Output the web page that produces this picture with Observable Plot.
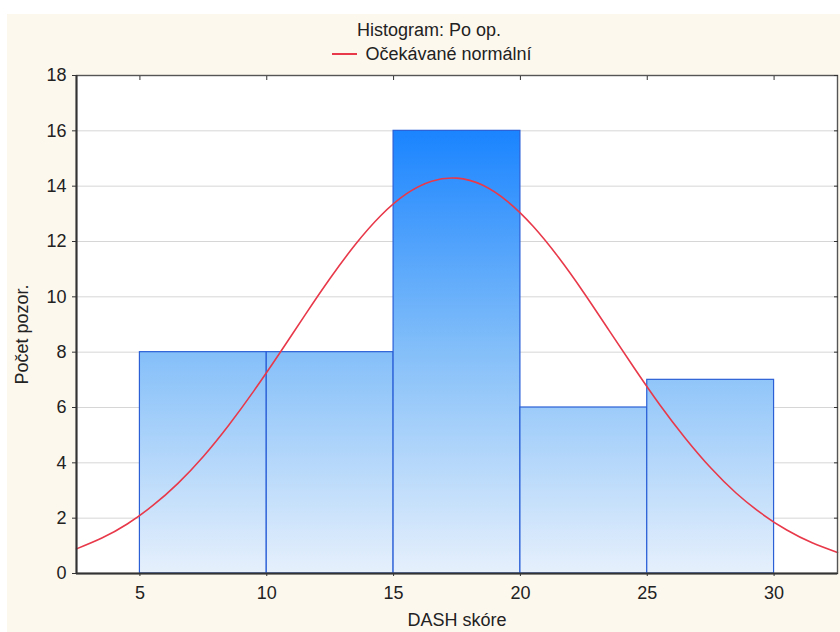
<!DOCTYPE html>
<html>
<head>
<meta charset="utf-8">
<script src="https://cdn.jsdelivr.net/npm/d3@7"></script>
<script src="https://cdn.jsdelivr.net/npm/@observablehq/plot@0.6"></script>
<style>
  body { margin: 0; background: #ffffff; font-family: "Liberation Sans", Arial, sans-serif; }
  #page { position: absolute; left: 0; top: 0; width: 840px; height: 632px; overflow: hidden; }
  #panel { position: absolute; left: 7px; top: 14px; right: 0; bottom: 0; background: #fdf8ee; }
  #title { position: absolute; left: 0; top: 20px; width: 858px; text-align: center; font-size: 18px; line-height: 20px; color: #222; white-space: nowrap; }
  #legend { position: absolute; left: 0; top: 44px; width: 864px; text-align: center; font-size: 18px; line-height: 20px; color: #222; white-space: nowrap; }
  #legend .sw { display: inline-block; width: 25px; height: 0; border-top: 2px solid #e8394a; vertical-align: middle; margin-right: 8px; position: relative; top: -1px; }
  #chart { position: absolute; left: 0; top: 65px; }
</style>
</head>
<body>
<div id="page">
  <div id="panel"></div>
  <div id="title">Histogram: Po op.</div>
  <div id="legend"><span class="sw"></span>Očekávané normální</div>
  <div id="chart"></div>
</div>
<script>
// Histogram bins (DASH skóre) and counts
const binStart = [5, 10, 15, 20, 25];
const binEnd = [10, 15, 20, 25, 30];
const counts = [8, 8, 16, 6, 7];

// Expected normal curve
const curveX = [2.5, 3.5, 4.5, 5.5, 6.5, 7.5, 8.5, 9.5, 10.5, 11.5, 12.5, 13.5, 14.5, 15.5, 16.5, 17.5, 18.5, 19.5, 20.5, 21.5, 22.5, 23.5, 24.5, 25.5, 26.5, 27.5, 28.5, 29.5, 30.5, 31.5, 32.5];
const curveY = [0.89, 1.28, 1.79, 2.45, 3.26, 4.23, 5.36, 6.61, 7.95, 9.33, 10.67, 11.90, 12.94, 13.72, 14.18, 14.29, 14.04, 13.44, 12.55, 11.43, 10.15, 8.78, 7.41, 6.09, 4.89, 3.82, 2.91, 2.17, 1.57, 1.11, 0.76];

// Axis ticks
const xTicks = [5, 10, 15, 20, 25, 30];
const yTicks = [0, 2, 4, 6, 8, 10, 12, 14, 16, 18];
const xDomain = [2.5, 32.5];
const yDomain = [0, 18];

const bars = binStart.map((s, i) => ({x1: s, x2: binEnd[i], y: counts[i]}));
const curve = curveX.map((x, i) => ({x, y: curveY[i]}));

const plot = Plot.plot({
  width: 840,
  height: 567,
  marginLeft: 76,
  marginRight: 3,
  marginTop: 10,
  marginBottom: 59,
  style: {fontSize: "18px", fontFamily: "'Liberation Sans', Arial, sans-serif", background: "transparent", color: "#222", overflow: "visible"},
  x: {domain: xDomain},
  y: {domain: yDomain},
  marks: [
    Plot.frame({fill: "#ffffff", stroke: "none"}),
    Plot.gridY(yTicks, {stroke: "#d6d6d6", strokeOpacity: 1, strokeWidth: 1}),
    Plot.rectY(bars, {x1: "x1", x2: "x2", y: "y", fill: "url(#barGrad)", stroke: "#2a5fd6", strokeWidth: 1.2}),
    Plot.line(curve, {x: "x", y: "y", stroke: "#e8394a", strokeWidth: 1.6, curve: "natural"}),
    Plot.frame({stroke: "#555", strokeWidth: 1.4}),
    Plot.ruleX([xDomain[0]], {stroke: "#333", strokeWidth: 2}),
    Plot.ruleY([yDomain[0]], {stroke: "#333", strokeWidth: 2}),
    Plot.axisX(xTicks, {anchor: "bottom", tickSize: 3, tickPadding: 10, label: null, stroke: "#333"}),
    Plot.axisX(xTicks, {anchor: "top", tickSize: -4, tickFormat: () => "", label: null, stroke: "#333"}),
    Plot.axisY(yTicks, {anchor: "left", tickSize: 4, tickPadding: 6, label: null, stroke: "#333"}),
    Plot.axisY(yTicks, {anchor: "right", tickSize: -4, tickFormat: () => "", label: null, stroke: "#333"}),
    Plot.text(["DASH skóre"], {frameAnchor: "bottom", textAnchor: "middle", lineAnchor: "middle", dy: 47, fontSize: 18, fill: "#222"}),
    Plot.text(["Počet pozor."], {frameAnchor: "left", textAnchor: "middle", lineAnchor: "middle", rotate: -90, dx: -54, dy: 10, fontSize: 18, fill: "#222"})
  ]
});

// Vertical gradient for the bars, positioned with the y scale
const ys = plot.scale("y");
const defs = d3.select(plot).insert("defs", ":first-child");
const grad = defs.append("linearGradient")
  .attr("id", "barGrad")
  .attr("gradientUnits", "userSpaceOnUse")
  .attr("x1", 0).attr("x2", 0)
  .attr("y1", ys.apply(16)).attr("y2", ys.apply(0));
grad.append("stop").attr("offset", "0%").attr("stop-color", "#1a84ff");
grad.append("stop").attr("offset", "50%").attr("stop-color", "#84bff9");
grad.append("stop").attr("offset", "100%").attr("stop-color", "#e6f0fc");

document.getElementById("chart").appendChild(plot);
</script>
</body>
</html>
